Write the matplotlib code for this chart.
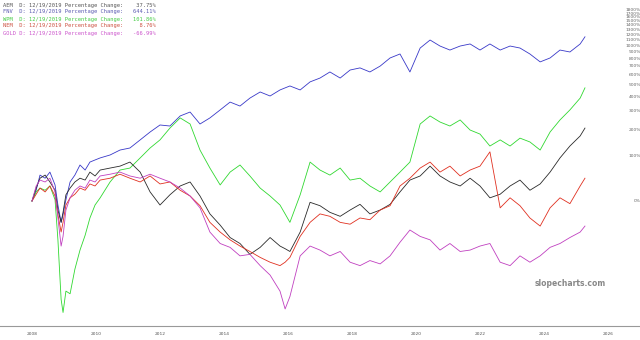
import numpy as np
import matplotlib.pyplot as plt
from matplotlib.ticker import FixedLocator, NullLocator, NullFormatter

# decimal years of the sampled points
dates = [2008.00, 2008.13, 2008.25, 2008.41, 2008.56, 2008.72, 2008.81, 2008.91, 2008.97,
         2009.06, 2009.19, 2009.34, 2009.50, 2009.66, 2009.81, 2009.97, 2010.13,
         2010.44, 2010.75, 2011.06, 2011.38, 2011.69, 2012.00, 2012.31, 2012.63, 2012.94,
         2013.25, 2013.56, 2013.88, 2014.19, 2014.50, 2014.81, 2015.13, 2015.44, 2015.75,
         2015.91, 2016.06,
         2016.38, 2016.69, 2017.00, 2017.31, 2017.63, 2017.94, 2018.25, 2018.56, 2018.88,
         2019.19, 2019.50, 2019.81, 2020.13, 2020.44, 2020.75, 2021.06, 2021.38, 2021.69,
         2022.00, 2022.31, 2022.63, 2022.94, 2023.25, 2023.56, 2023.88, 2024.19, 2024.50,
         2024.81, 2025.13,
         2025.28]

# percentage change from the start
fnv = [0, 18, 49, 42, 56, 28, -6, -28, -19, 2, 34, 49, 74, 61, 82, 88, 94,
       103, 119, 126, 156, 189, 222, 217, 270, 293, 227, 259, 306, 358, 331, 387, 435, 403, 452,
       470, 487,
       452, 525, 563, 628, 563, 650, 675, 628, 697, 803, 860, 628, 952, 1090, 985, 920, 985,
       1020, 920, 1020, 920, 985, 952, 860, 750, 803, 920, 890, 1020,
       1150]
wpm = [0, 15, 22, 18, 26, 2, -45, -78, -82, -75, -76, -65, -53, -41, -23, -6, 5,
       34, 61, 66, 94, 126, 156, 207, 259, 227, 119, 66, 28, 56, 74, 47, 22, 8, -6,
       -18, -28,
       10, 82, 61, 49, 66, 38, 42, 26, 15, 34, 56, 82, 227, 270, 237, 217, 248, 198, 180,
       133, 156, 133, 163, 148, 119, 189, 248, 306, 387,
       470]
aem = [0, 22, 42, 49, 34, 18, -13, -28, -16, 10, 22, 34, 42, 38, 56, 47, 61,
       66, 71, 82, 56, 15, -6, 10, 26, 34, 8, -18, -31, -43, -48, -56, -51, -43, -50,
       -52, -54,
       -38, -2, -7, -16, -21, -13, -5, -18, -13, -5, 15, 38, 47, 71, 47, 34, 26, 42, 26,
       5, 11, 26, 38, 18, 30, 56, 94, 133, 172,
       207]
nem = [0, 11, 22, 15, 26, 8, -19, -38, -28, -6, 5, 11, 22, 18, 30, 26, 38,
       42, 51, 42, 34, 47, 30, 34, 18, 8, -7, -28, -38, -45, -50, -54, -58, -61, -63,
       -61, -58,
       -42, -28, -18, -21, -28, -30, -23, -25, -13, -7, 26, 42, 66, 82, 56, 71, 47, 61,
       71, 113, -10, 5, -7, -23, -32, -10, 5, -4, 26,
       42]
gold = [0, 26, 38, 34, 42, 15, -23, -50, -42, -13, 5, 18, 26, 22, 38, 34, 47,
        51, 56, 47, 42, 51, 42, 34, 22, 8, -10, -38, -48, -51, -57, -56, -63, -68, -75,
        -81, -77,
        -57, -50, -53, -57, -54, -61, -63, -60, -62, -57, -47, -36, -42, -45, -53, -48,
        -54, -53, -50, -48, -61, -63, -57, -61, -57, -51, -48, -43, -38,
        -32]

tickers = ["AEM", "FNV", "WPM", "NEM", "GOLD"]
changes = ["37.75%", "644.11%", "101.86%", "8.76%", "-66.99%"]
series = [aem, fnv, wpm, nem, gold]
line_colors = ["#2a2a2a", "#3838c8", "#30d830", "#e03020", "#c040c0"]
text_colors = ["#555555", "#5a5ab0", "#44cc44", "#cc5040", "#cc55cc"]

y_ticks = list(range(0, 1900, 100))
x_ticks = list(range(2008, 2027, 2))

fig = plt.figure(figsize=(6.4, 3.4), dpi=100)
ax = fig.add_axes([0, 14 / 340, 1, 326 / 340])

# draw order: blue, green, black, red, magenta
for i in [1, 2, 0, 3, 4]:
    ratio = 1 + np.array(series[i]) / 100.0
    ax.plot(dates, ratio, color=line_colors[i], lw=0.6)

ax.set_yscale("log")
ax.set_xlim(2007, 2027)
ax.set_ylim(np.exp(-125 / 65), np.exp(201 / 65))

ax.yaxis.set_major_locator(FixedLocator([1 + v / 100 for v in y_ticks]))
ax.yaxis.set_minor_locator(NullLocator())
ax.yaxis.set_minor_formatter(NullFormatter())
ax.set_yticklabels([f"{v}%" for v in y_ticks])
ax.tick_params(axis="y", left=False, right=False, labelleft=False, labelright=True,
               pad=-3, labelsize=3.2, labelcolor="#666666")
for lab in ax.get_yticklabels():
    lab.set_ha("right")

ax.set_xticks(x_ticks)
ax.set_xticklabels([str(y) for y in x_ticks])
ax.tick_params(axis="x", length=0, pad=4, labelsize=3.2, labelcolor="#555555")

for s in ["top", "left", "right"]:
    ax.spines[s].set_visible(False)
ax.spines["bottom"].set_color("#999999")
ax.spines["bottom"].set_linewidth(0.8)

# header lines
for i, t in enumerate(tickers):
    txt = f"{t:<4} D: 12/19/2019 Percentage Change: {changes[i]:>9}"
    fig.text(3 / 640, 1 - (5 + 7 * i) / 340, txt, family="DejaVu Sans Mono",
             fontsize=3.9, color=text_colors[i], va="center", ha="left")

fig.text(606 / 640, 1 - 283 / 340, "slopecharts.com", fontsize=5.5, fontweight="bold",
         color="#888888", ha="right", va="center")

fig.savefig("out.png", dpi=100)
